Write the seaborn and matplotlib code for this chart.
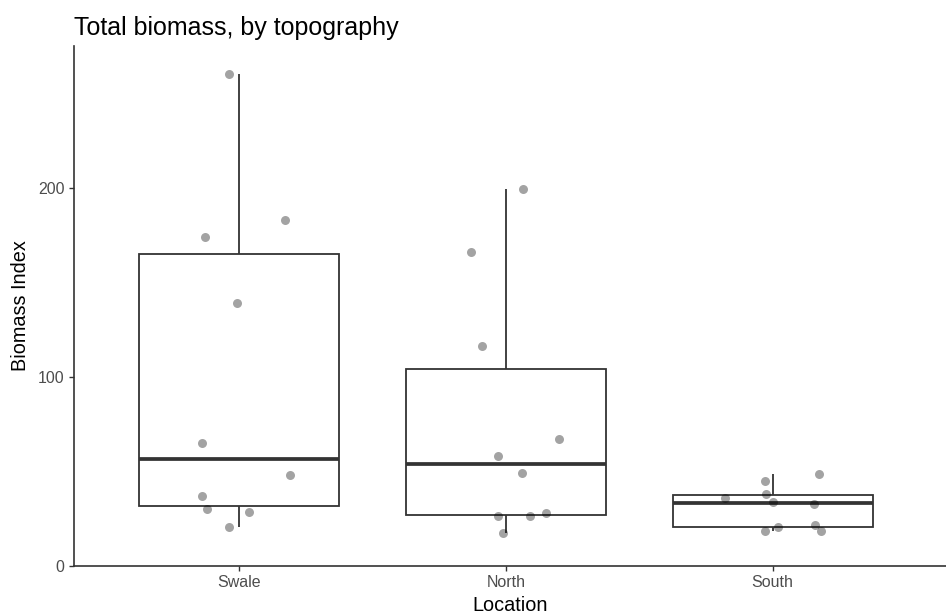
import numpy as np
import pandas as pd
import seaborn as sns
import matplotlib.pyplot as plt

# Значения
locations = ["Swale", "North", "South"]
swale = [260.6, 174.2, 183.2, 139.2, 64.9, 47.9, 36.8, 30.2, 28.3, 20.5]
north = [199.5, 166.2, 116.3, 67.1, 58.1, 49.3, 26.5, 26.3, 28.1, 17.5]
south = [48.6, 45.1, 38.0, 35.9, 33.8, 32.7, 21.7, 20.3, 18.4, 18.4]

# горизонтальный сдвиг точек (jitter), как на картинке
swale_jitter = [-0.04, -0.13, 0.17, -0.01, -0.14, 0.19, -0.14, -0.12, 0.035, -0.04]
north_jitter = [0.065, -0.13, -0.09, 0.20, -0.03, 0.06, -0.03, 0.09, 0.15, -0.01]
south_jitter = [0.175, -0.03, -0.025, -0.18, 0.0, 0.155, 0.16, 0.02, -0.03, 0.18]

values = [swale, north, south]
jitters = [swale_jitter, north_jitter, south_jitter]

rows = []
for i, (loc, vals, jit) in enumerate(zip(locations, values, jitters)):
    for v, j in zip(vals, jit):
        rows.append({"Location": loc, "Biomass": v, "xpos": i + j})
df = pd.DataFrame(rows)

sns.set_style("ticks")
plt.rcParams["font.family"] = ["Liberation Sans", "DejaVu Sans"]

fig = plt.figure(figsize=(9.46, 6.15), dpi=100)
ax = fig.add_axes([0.0782, 0.0802, 0.9218, 0.8455])

line_col = "#333333"
sns.boxplot(
    data=df, x="Location", y="Biomass", order=locations, ax=ax,
    width=0.75, color="white", linecolor=line_col, linewidth=1.3,
    showfliers=False, showcaps=False,
    medianprops={"linewidth": 2.7, "color": line_col},
)
sns.scatterplot(
    data=df, x="xpos", y="Biomass", ax=ax, color="black",
    alpha=0.36, s=42, linewidth=0, zorder=5, legend=False,
)

ax.set_xlim(-0.62, 2.65)
ax.set_ylim(0, 275.6)
ax.set_yticks([0, 100, 200])
ax.set_xticks(range(len(locations)))
ax.set_xticklabels(locations)

for side in ["top", "right"]:
    ax.spines[side].set_visible(False)
for side in ["left", "bottom"]:
    ax.spines[side].set_color(line_col)
    ax.spines[side].set_linewidth(1.2)

ax.tick_params(axis="both", colors=line_col, labelcolor="#4D4D4D",
               labelsize=11.5, length=3.7, width=1.0, pad=3)

ax.set_xlabel("Location", fontsize=14.3, color="black", labelpad=4)
ax.set_ylabel("Biomass Index", fontsize=14.3, color="black", labelpad=6)
ax.set_title("Total biomass, by topography", loc="left", fontsize=18,
             color="black", pad=8)

fig.savefig("out.png", dpi=100)
plt.close(fig)
